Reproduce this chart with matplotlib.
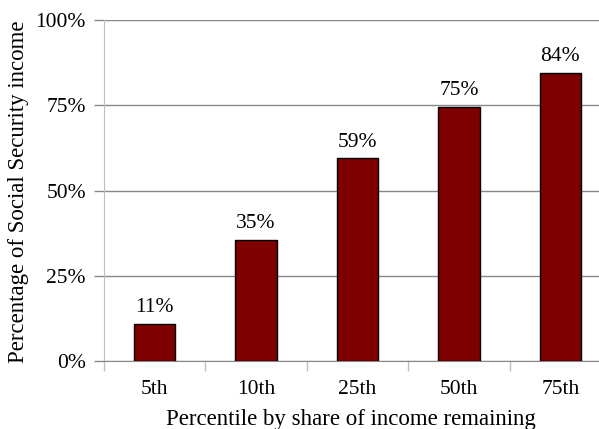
import matplotlib
matplotlib.use("Agg")
import matplotlib.pyplot as plt
from matplotlib.ticker import FixedLocator, NullFormatter

categories = ["5th", "10th", "25th", "50th", "75th"]
values = [10.9, 35.4, 59.4, 74.6, 84.4]
labels = ["11%", "35%", "59%", "75%", "84%"]
yticks = [0, 25, 50, 75, 100]
yticklabels = ["0%", "25%", "50%", "75%", "100%"]

plt.rcParams['font.family'] = ['Liberation Serif', 'DejaVu Serif']

W, H = 599, 429
fig = plt.figure(figsize=(W/100, H/100), dpi=100)
x0, x1 = 104, 611
y0, y1 = 361, 20
ax = fig.add_axes([x0/W, 1 - y0/H, (x1-x0)/W, (y0-y1)/H])

pos = list(range(len(categories)))
ax.bar(pos, values, width=0.41, color="#7f0000", edgecolor="black", linewidth=1, zorder=3)
for p, v, lab in zip(pos, values, labels):
    ax.annotate(lab, (p, v), xytext=(0, 5), textcoords="offset points",
                ha="center", va="bottom", fontsize=15.5)

ax.set_xlim(-0.5, len(categories) - 0.5)
ax.set_ylim(0, 100)
ax.set_yticks(yticks)
ax.set_yticklabels(yticklabels, fontsize=15.5)
ax.yaxis.grid(True, color="#888888", linewidth=1, zorder=0)
ax.set_xticks(pos)
ax.set_xticklabels(categories, fontsize=15.5)
ax.xaxis.set_minor_locator(FixedLocator([p - 0.5 for p in pos]))
ax.xaxis.set_minor_formatter(NullFormatter())
ax.tick_params(axis="x", which="major", length=0, pad=14)
ax.tick_params(axis="x", which="minor", length=7, color="#bfbfbf", width=1)
ax.tick_params(axis="y", length=7, color="#888888", width=1, pad=6)

for s in ["top", "right"]:
    ax.spines[s].set_visible(False)
ax.spines["left"].set_color("#bfbfbf")
ax.spines["bottom"].set_color("#888888")

fig.text(351/W, 1 - 425/H, "Percentile by share of income remaining",
         fontsize=16.5, ha="center", va="baseline")
fig.text(19/W, 1 - 192/H, "Percentage of Social Security income",
         fontsize=16.5, ha="center", va="center", rotation=90)

fig.savefig("out.png", dpi=100)
